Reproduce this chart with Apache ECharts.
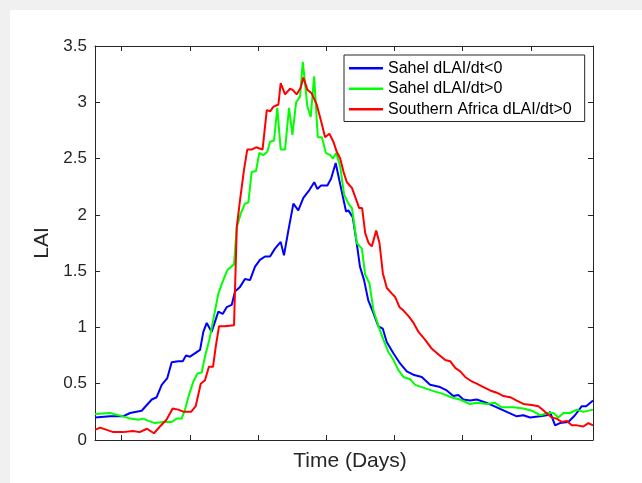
<!DOCTYPE html>
<html>
<head>
<meta charset="utf-8">
<script src="https://cdn.jsdelivr.net/npm/echarts@6/dist/echarts.min.js"></script>
<style>
html,body{margin:0;padding:0;background:#f0f0f0;width:642px;height:483px;overflow:hidden;}
#chart{position:absolute;left:10px;top:10px;width:632px;height:473px;background:#ffffff;}
</style>
</head>
<body>
<div id="chart"></div>
<script>
// Series names
const seriesNames = ['Sahel dLAI/dt<0', 'Sahel dLAI/dt>0', 'Southern Africa dLAI/dt>0'];

// [day, LAI] pairs
const sahelNeg = [[0,0.20],[1.2,0.19],[11,0.21],[20.5,0.21],[25.7,0.24],[34.2,0.26],[41.6,0.36],[45.2,0.38],[48.9,0.49],[53,0.55],[56.2,0.69],[61.1,0.70],[64.3,0.70],[66.7,0.75],[69.6,0.74],[77,0.80],[79.4,0.96],[81.9,1.04],[85.5,0.96],[90.4,1.14],[93.6,1.12],[96.5,1.18],[100.2,1.20],[102.6,1.32],[106.3,1.36],[109.9,1.43],[113.6,1.42],[117.3,1.54],[120.9,1.60],[124.6,1.63],[128.3,1.63],[131.9,1.70],[136.1,1.76],[138.5,1.64],[141.7,1.86],[145.4,2.10],[149,2.04],[152.7,2.15],[157.1,2.22],[160.7,2.29],[162.9,2.23],[165.7,2.26],[170.3,2.26],[173,2.32],[176.4,2.46],[180.1,2.25],[184,2.03],[185.7,2.04],[188.9,1.98],[191.8,1.75],[194.2,1.54],[197.2,1.42],[200.3,1.24],[204,1.13],[207.7,1.01],[210.9,0.99],[213.8,0.87],[218.7,0.77],[223.6,0.68],[228.5,0.61],[233.3,0.58],[239.5,0.56],[245.6,0.49],[252.9,0.47],[257.8,0.44],[262.6,0.39],[266.3,0.40],[270,0.36],[274.9,0.35],[279.8,0.36],[287.1,0.33],[294.5,0.29],[301.8,0.25],[309.1,0.21],[314,0.22],[318.9,0.20],[326.2,0.21],[331.1,0.22],[333.5,0.25],[337.2,0.13],[340.8,0.15],[346.9,0.16],[351.8,0.22],[356.8,0.30],[360,0.30],[365,0.35]];

const sahelPos = [[0,0.23],[11,0.24],[20.5,0.21],[25.7,0.19],[31.8,0.18],[35.4,0.19],[39.1,0.17],[44,0.15],[50.1,0.16],[56.2,0.16],[59.9,0.19],[63.5,0.19],[66,0.27],[69.1,0.41],[72.1,0.52],[75,0.59],[78.2,0.60],[80.6,0.74],[83.8,0.89],[87.2,1.10],[90.4,1.30],[94,1.42],[97,1.51],[101.9,1.56],[103.9,1.89],[106.8,2.01],[109.9,2.10],[112.4,2.11],[114.8,2.38],[118,2.39],[120.4,2.55],[123.3,2.53],[126.3,2.56],[128.3,2.65],[131.2,2.66],[133.6,2.95],[136.1,2.58],[139.3,2.58],[142.2,2.95],[144.7,2.71],[147.4,3.00],[150.3,3.05],[152.3,3.36],[155.7,2.96],[158.1,2.87],[160.6,3.23],[163.3,2.69],[166.3,2.69],[169.2,2.55],[172.4,2.53],[174.4,2.50],[176.8,2.55],[179.7,2.43],[182.6,2.18],[185.8,2.10],[188.3,2.06],[191.9,1.75],[195.6,1.70],[198,1.47],[201.2,1.39],[204.1,1.15],[207.8,1.01],[211.4,0.89],[215.1,0.78],[218.8,0.71],[222.4,0.62],[226.1,0.56],[231,0.54],[234.6,0.49],[239.5,0.47],[244.4,0.45],[249.3,0.43],[255,0.41],[261,0.38],[267.4,0.36],[274.8,0.32],[279.8,0.33],[287.1,0.32],[293.2,0.33],[298.1,0.29],[306.6,0.29],[314,0.28],[320.1,0.26],[326.2,0.22],[332.3,0.24],[336,0.24],[339.6,0.20],[343.3,0.24],[348.2,0.24],[353.1,0.27],[357.9,0.25],[365,0.27]];

const southAfr = [[0,0.09],[1.2,0.10],[3.7,0.11],[8.6,0.09],[13.4,0.07],[20.5,0.07],[27.8,0.08],[32.7,0.07],[38.1,0.10],[43.2,0.06],[47.6,0.12],[52.4,0.18],[56.9,0.28],[61,0.27],[65.2,0.25],[70.4,0.25],[73.8,0.30],[77.5,0.50],[80.6,0.53],[83.5,0.65],[86.5,0.65],[88.5,0.83],[90.9,1.01],[95,1.01],[101.9,1.02],[103.9,1.89],[106.3,2.13],[109.2,2.40],[111.6,2.58],[114.8,2.58],[118,2.60],[122.8,2.58],[125.9,2.93],[128.3,2.92],[130.7,2.96],[134.4,2.98],[136.1,3.17],[139.3,3.07],[142.9,3.12],[144.9,3.11],[147.8,3.07],[150.7,3.13],[152.7,3.22],[155.7,3.11],[158.8,3.08],[162.5,2.98],[166.2,2.81],[168.6,2.69],[171.8,2.72],[174.7,2.65],[177.2,2.56],[179.7,2.50],[182.2,2.38],[184.6,2.29],[188.3,2.24],[191.9,2.12],[193.6,2.06],[195.8,2.06],[198,1.84],[200.5,1.75],[202.9,1.72],[206.1,1.86],[208.5,1.75],[211,1.48],[213.9,1.35],[217.6,1.30],[220,1.27],[223.2,1.18],[226.1,1.15],[229.8,1.10],[233.5,1.04],[237.1,0.96],[242,0.89],[246.9,0.81],[251.8,0.76],[256.7,0.71],[260.3,0.70],[264,0.64],[267.7,0.61],[271.3,0.56],[276.2,0.52],[279.8,0.50],[284.7,0.47],[289.6,0.44],[294.5,0.42],[299.4,0.39],[304.3,0.38],[309.1,0.35],[314,0.32],[320.1,0.31],[325,0.30],[329.8,0.25],[334.8,0.20],[338.4,0.19],[342.1,0.16],[345.7,0.17],[349.4,0.13],[353.1,0.13],[357.9,0.12],[361.6,0.15],[365,0.13]];

// Axis settings
const xTickValues = [19.5, 69.5, 119.5, 169.5, 219.5, 269.5, 319.5];
const yMin = 0, yMax = 3.5, yStep = 0.5;
const xMin = 0, xMax = 365;

const axisColor = '#262626';
const font = 'Liberation Sans, Arial, Helvetica, sans-serif';

const chart = echarts.init(document.getElementById('chart'), null, {renderer: 'canvas'});

function xAx(pos) {
  return {
    type: 'value', position: pos, min: xMin, max: xMax,
    axisLine: {show: true, onZero: false, lineStyle: {color: axisColor, width: 1}},
    axisTick: {show: true, inside: true, length: 5, customValues: xTickValues, lineStyle: {color: axisColor}},
    axisLabel: {show: false},
    splitLine: {show: false}
  };
}
function yAx(pos, labels) {
  return {
    type: 'value', position: pos, min: yMin, max: yMax, interval: yStep,
    axisLine: {show: true, onZero: false, lineStyle: {color: axisColor, width: 1}},
    axisTick: {show: true, inside: true, length: 5, lineStyle: {color: axisColor}},
    axisLabel: {show: labels, color: axisColor, fontSize: 17, fontFamily: font, margin: 8},
    splitLine: {show: false}
  };
}

const xBottom = xAx('bottom');
xBottom.name = 'Time (Days)';
xBottom.nameLocation = 'middle';
xBottom.nameGap = 11;
xBottom.nameTextStyle = {color: axisColor, fontSize: 21, fontFamily: font, verticalAlign: 'top', padding: [0, 0, 0, 12]};

const yLeft = yAx('left', true);
yLeft.name = 'LAI';
yLeft.nameLocation = 'middle';
yLeft.nameGap = 37;
yLeft.nameTextStyle = {color: axisColor, fontSize: 21, fontFamily: font};

const colors = ['#0000ff', '#00ff00', '#ff0000'];
const dataSets = [sahelNeg, sahelPos, southAfr];

chart.setOption({
  animation: false,
  backgroundColor: '#ffffff',
  grid: {left: 85, top: 36, right: 49, bottom: 43, containLabel: false},
  xAxis: [xBottom, xAx('top')],
  yAxis: [yLeft, yAx('right', false)],
  legend: {
    show: true,
    orient: 'vertical',
    left: 334, top: 45,
    data: seriesNames,
    icon: 'rect',
    itemWidth: 34, itemHeight: 2.5,
    itemGap: 0,
    padding: [3, 13, 2, 5],
    borderColor: axisColor, borderWidth: 1,
    backgroundColor: '#ffffff',
    textStyle: {color: '#000000', fontSize: 16, fontFamily: font, lineHeight: 20.5},
    selectedMode: false
  },
  series: seriesNames.map((n, i) => ({
    name: n, type: 'line', xAxisIndex: 0, yAxisIndex: 0,
    data: dataSets[i],
    symbol: 'none', showSymbol: false,
    lineStyle: {color: colors[i], width: 2},
    itemStyle: {color: colors[i]},
    z: 2 + i
  }))
});
</script>
</body>
</html>
